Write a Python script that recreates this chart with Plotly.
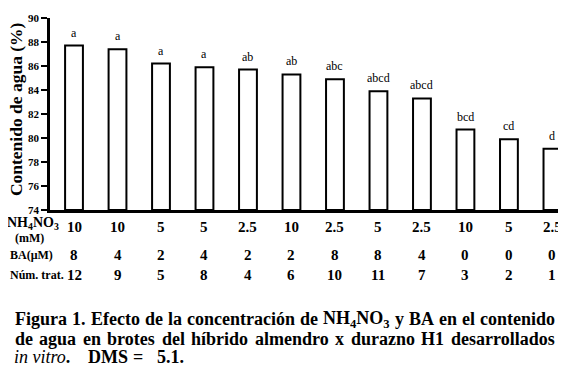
import plotly.graph_objects as go

# ---- Data ----
treat_num = ["12", "9", "5", "8", "4", "6", "10", "11", "7", "3", "2", "1"]
nh4no3 = ["10", "10", "5", "5", "2.5", "10", "2.5", "5", "2.5", "10", "5", "2.5"]
ba = ["8", "4", "2", "4", "2", "2", "8", "8", "4", "0", "0", "0"]
water = [87.7, 87.4, 86.2, 85.9, 85.7, 85.3, 84.9, 83.9, 83.3, 80.7, 79.9, 79.1]
letters = ["a", "a", "a", "a", "ab", "ab", "abc", "abcd", "abcd", "bcd", "cd", "d"]
y_ticks = [74, 76, 78, 80, 82, 84, 86, 88, 90]

caption_line1 = ["Figura", "1.", "Efecto", "de", "la", "concentración", "de",
                 "NH<sub>4</sub>NO<sub>3</sub>", "y", "BA", "en", "el", "contenido"]
caption_line2 = ["de", "agua", "en", "brotes", "del", "híbrido", "almendro", "x",
                 "durazno", "H1", "desarrollados"]

SERIF = "Liberation Serif"
xs = list(range(len(water)))

# Times New Roman Bold advance widths (1/1000 em) for justifying the caption
TB = {' ': 250, '.': 250, '=': 570, '1': 500, '3': 500, '4': 500, '5': 500,
      'A': 722, 'B': 667, 'D': 722, 'E': 667, 'F': 611, 'H': 778, 'M': 944,
      'N': 722, 'O': 778, 'S': 556,
      'a': 500, 'b': 556, 'c': 444, 'd': 556, 'e': 444, 'f': 333, 'g': 500,
      'h': 556, 'i': 278, 'l': 278, 'm': 833, 'n': 556, 'o': 500, 'r': 444,
      's': 389, 't': 333, 'u': 556, 'x': 500, 'y': 500, 'z': 444,
      'í': 278, 'ó': 500}

def word_width(w, fs):
    total = 0.0
    sub = False
    i = 0
    while i < len(w):
        if w.startswith("<sub>", i):
            sub = True; i += 5; continue
        if w.startswith("</sub>", i):
            sub = False; i += 6; continue
        total += TB.get(w[i], 500) * (0.7 if sub else 1.0)
        i += 1
    return total * fs / 1000.0

fig = go.Figure()
fig.add_trace(go.Bar(
    x=xs, y=[v - 74 for v in water], base=74,
    width=0.41,
    marker=dict(color="white", line=dict(color="black", width=2)),
    showlegend=False, hoverinfo="skip",
))

# page coordinates (the page adds an 8px body margin, figure is 558x369)
PL, PR, PT, PB = 50, 562, 13, 210

def py(p):
    return (PB - p) / float(PB - PT)

def px_x(p):
    return (p - PL) / float(PR - PL)

ann = []
for i, (v, l) in enumerate(zip(water, letters)):
    ann.append(dict(x=i, y=v, xref="x", yref="y", text=l, showarrow=False,
                    yanchor="bottom", yshift=4,
                    font=dict(family=SERIF, size=12, color="black")))

for i in xs:
    for arr, yy in ((nh4no3, 227), (ba, 256), (treat_num, 277)):
        ann.append(dict(x=i, y=py(yy), xref="x", yref="paper", text="<b>%s</b>" % arr[i],
                        showarrow=False, yanchor="middle",
                        font=dict(family=SERIF, size=15, color="black")))

ann.append(dict(x=px_x(33), y=py(223.5), xref="paper", yref="paper",
                text="<b>NH<sub>4</sub>NO<sub>3</sub></b>", showarrow=False,
                xanchor="center", yanchor="middle",
                font=dict(family=SERIF, size=14, color="black")))
ann.append(dict(x=px_x(29), y=py(239), xref="paper", yref="paper",
                text="<b>(mM)</b>", showarrow=False, xanchor="center", yanchor="middle",
                font=dict(family=SERIF, size=12, color="black")))
ann.append(dict(x=px_x(8), y=py(256), xref="paper", yref="paper",
                text="<b>BA(μM)</b>", showarrow=False, xanchor="left", yanchor="middle",
                font=dict(family=SERIF, size=12, color="black")))
ann.append(dict(x=px_x(8), y=py(277), xref="paper", yref="paper",
                text="<b>Núm. trat.</b>", showarrow=False, xanchor="left", yanchor="middle",
                font=dict(family=SERIF, size=12, color="black")))

# Y axis title
ann.append(dict(x=px_x(15.5), y=py(107), xref="paper", yref="paper",
                text="<b>Contenido de agua (%)</b>", showarrow=False, textangle=-90,
                xanchor="center", yanchor="middle",
                font=dict(family=SERIF, size=17.5, color="black")))

# Caption, justified between x=13 and x=553
CAP_FS = 18
X0, X1 = 13, 553

def justified(words, yy):
    widths = [word_width(w, CAP_FS) for w in words]
    gap = (X1 - X0 - sum(widths)) / (len(words) - 1)
    x = X0
    for w, wd in zip(words, widths):
        ann.append(dict(x=px_x(x), y=py(yy), xref="paper", yref="paper",
                        text="<b>%s</b>" % w, showarrow=False,
                        xanchor="left", yanchor="middle",
                        font=dict(family=SERIF, size=CAP_FS, color="black")))
        x += wd + gap

justified(caption_line1, 322)
justified(caption_line2, 342)

# last line (not justified)
last = [("<i>in vitro</i><b>.</b>", 12), ("<b>DMS</b>", 86),
        ("<b>=</b>", 131), ("<b>5.1.</b>", 155)]
for t, xx in last:
    ann.append(dict(x=px_x(xx), y=py(361), xref="paper", yref="paper", text=t,
                    showarrow=False, xanchor="left", yanchor="middle",
                    font=dict(family=SERIF, size=CAP_FS, color="black")))

fig.update_layout(
    width=558, height=369,
    margin=dict(l=PL - 8, r=558 - (PR - 8), t=PT - 8, b=369 - (PB - 8)),
    paper_bgcolor="white", plot_bgcolor="white",
    annotations=ann,
    xaxis=dict(range=[-0.552, 11.22], showticklabels=False, ticks="",
               showgrid=False, zeroline=False, showline=True,
               linecolor="black", linewidth=2.5),
    yaxis=dict(range=[74, 90], tickvals=y_ticks,
               ticktext=["<b>%d</b>" % t for t in y_ticks],
               ticks="outside", ticklen=6, tickwidth=2, tickcolor="black",
               ticklabeloverflow="allow",
               showgrid=False, zeroline=False, showline=True,
               linecolor="black", linewidth=2.5,
               tickfont=dict(family=SERIF, size=11, color="black")),
)

fig.write_html("out.html")
